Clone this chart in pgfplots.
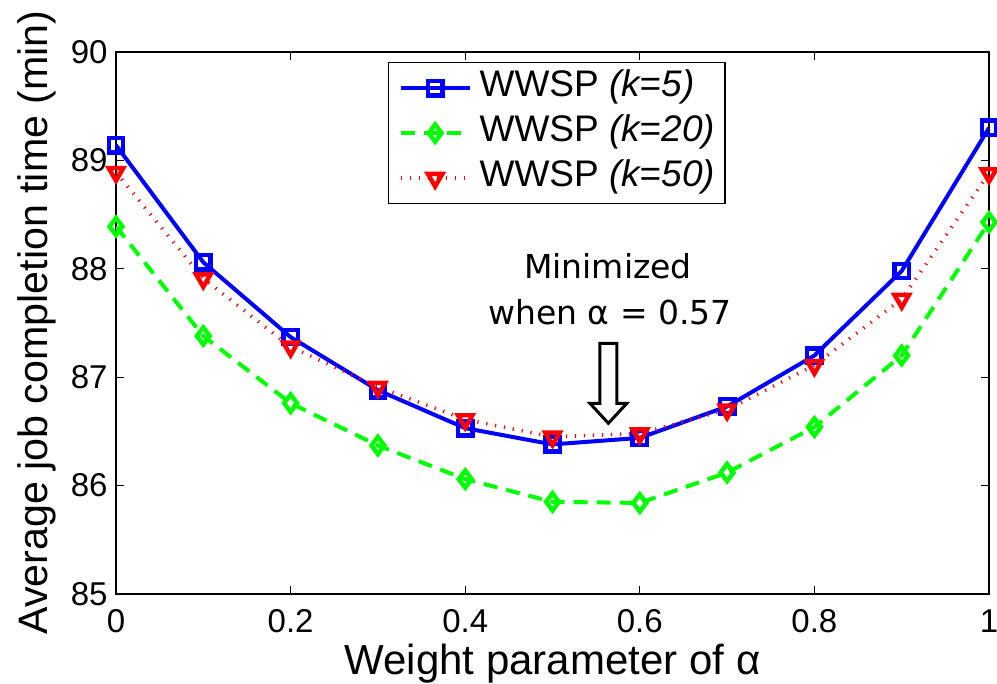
\documentclass[border=0pt]{standalone}
\usepackage{fontspec}
\setmainfont{Liberation Sans}
\newfontfamily\comic{DejaVu Sans}
\usepackage{pgfplots}
\pgfplotsset{compat=1.18}
\definecolor{mblue}{rgb}{0,0,1}
\definecolor{mgreen}{rgb}{0,1,0}
\definecolor{mred}{rgb}{1,0,0}
\begin{document}
\begin{tikzpicture}
\begin{axis}[
  scale only axis, width=436.5pt, height=271pt,
  xmin=0, xmax=1, ymin=85, ymax=90,
  xtick={0,0.2,0.4,0.6,0.8,1}, ytick={85,86,87,88,89,90},
  tick align=inside, major tick length=4pt,
  axis line style={line width=0.6pt},
  every tick/.style={black, line width=0.6pt},
  /pgf/number format/assume math mode=true,
  tick label style={font=\fontsize{16.5}{20}\selectfont},
  xticklabel style={anchor=base, yshift=-19.5pt, inner sep=0pt},
  yticklabel style={anchor=east, xshift=-4pt, inner sep=0pt},
  xlabel={Weight parameter of α},
  ylabel={Average job completion time (min)},
  every axis x label/.style={at={(axis description cs:0.5,-0.1494)}, anchor=base, font=\fontsize{21}{25}\selectfont},
  every axis y label/.style={at={(axis description cs:-0.0779,0.501)}, anchor=base, rotate=90, font=\fontsize{20.6}{25}\selectfont},
  legend cell align=left,
  legend style={at={(axis description cs:0.3116,0.9815)}, anchor=north west, draw=black, line width=0.6pt, fill=white,
    font=\fontsize{18.5}{22}\selectfont, inner xsep=5pt, inner ysep=4pt, row sep=5pt,
    nodes={inner sep=0pt, text height=13pt, text depth=4.5pt},
    /tikz/every odd column/.append style={column sep=4pt}},
  legend image code/.code={\draw[mark repeat=2,mark phase=2] plot coordinates {(0pt,0pt)(17.25pt,0pt)(34.5pt,0pt)};},
]
\addplot[mblue, line width=2pt, mark=square, mark size=3.6pt, mark options={solid, line width=2.2pt}]
  coordinates {(0,89.14) (0.1,88.06) (0.2,87.37) (0.3,86.88) (0.4,86.53) (0.5,86.38) (0.6,86.44) (0.7,86.73) (0.8,87.20) (0.9,87.98) (1,89.30)};
\addlegendentry{WWSP \textit{(k=5)}}
\addplot[mgreen, line width=2pt, dash pattern=on 7pt off 4.5pt, mark=diamond, mark size=4.3pt, mark options={solid, line width=2.2pt}]
  coordinates {(0,88.39) (0.1,87.38) (0.2,86.76) (0.3,86.37) (0.4,86.06) (0.5,85.85) (0.6,85.84) (0.7,86.12) (0.8,86.54) (0.9,87.20) (1,88.43)};
\addlegendentry{WWSP \textit{(k=20)}}
\addplot[mred, line width=1.8pt, dash pattern=on 0.6pt off 3.9pt, mark=triangle, mark size=4.2pt, mark options={solid, rotate=180, line width=2.2pt}]
  coordinates {(0,88.89) (0.1,87.91) (0.2,87.28) (0.3,86.91) (0.4,86.61) (0.5,86.45) (0.6,86.48) (0.7,86.70) (0.8,87.11) (0.9,87.72) (1,88.88)};
\addlegendentry{WWSP \textit{(k=50)}}
\node[font=\comic\fontsize{16.5}{19}\selectfont, anchor=base] at (axis cs:0.5636,87.915) {Minimized};
\node[font=\comic\fontsize{16.5}{19}\selectfont, anchor=base] at (axis cs:0.566,87.49) {when α = 0.57};
\draw[line width=1.5pt, fill=white] (axis cs:0.564,86.575) -- ++(-9.25pt,10pt) -- ++(5pt,0pt) -- ++(0pt,30pt) -- ++(8.5pt,0pt) -- ++(0pt,-30pt) -- ++(5pt,0pt) -- cycle;
\end{axis}
\pgfresetboundingbox
\path (current axis.south west) ++(-58pt,-45pt) rectangle ++(498.5pt,342pt);
\end{tikzpicture}
\end{document}
